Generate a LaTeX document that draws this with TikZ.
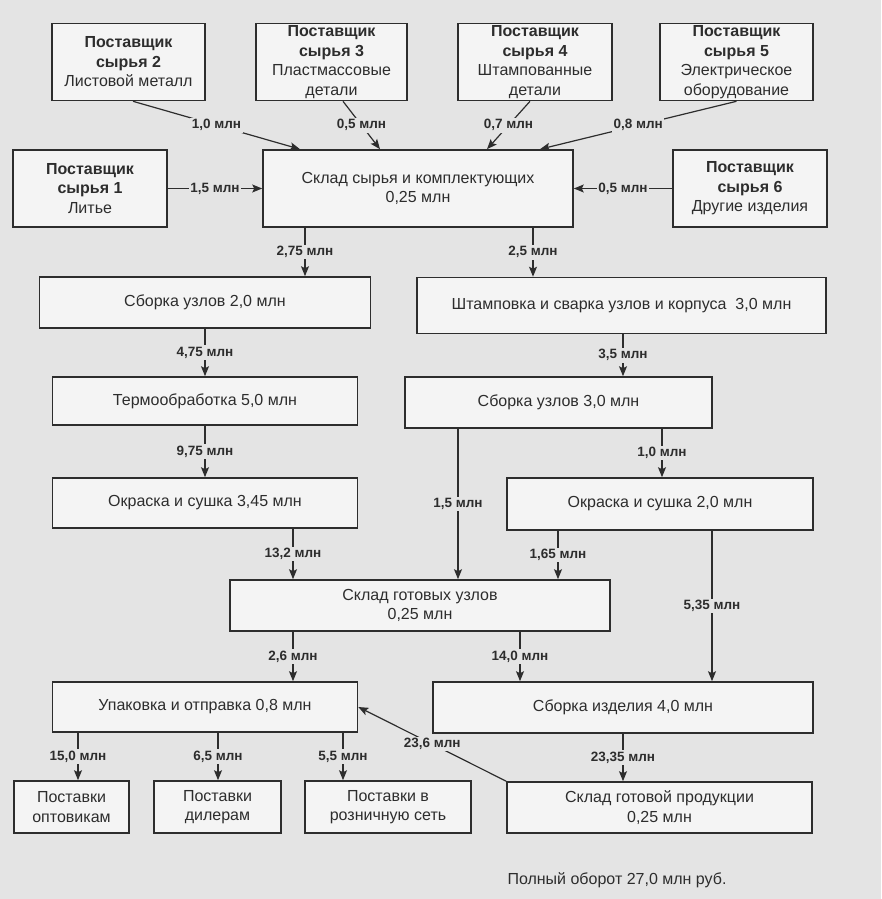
\documentclass[tikz,border=0pt]{standalone}
\usepackage{fontspec}
\setmainfont{Liberation Sans}
\usetikzlibrary{arrows.meta}

\definecolor{paper}{RGB}{228,228,228}
\definecolor{boxfill}{RGB}{244,244,244}
\definecolor{ink}{RGB}{45,45,45}

\tikzset{
    box/.style={draw=ink, line width=1.6pt, fill=boxfill, inner sep=0pt, align=center,
        text=ink, font=\fontsize{16}{19.5}\selectfont},
    flow/.style={draw=ink, line width=1.2pt, -{Stealth[length=10pt,width=8pt,inset=2pt]}},
    qty/.style={fill=paper, inner sep=1.5pt, text=ink, font=\bfseries\fontsize{13.5}{15}\selectfont},
}

\begin{document}
\begin{tikzpicture}[x=1pt, y=-1pt]
        \fill[paper] (0,0) rectangle (881,899);
        \useasboundingbox (0,0) rectangle (881,899);

        \node[box, minimum width=153pt, minimum height=77pt] (SupplierTwo) at (128.5,62) {\textbf{Поставщик}\\\textbf{сырья 2}\\Листовой металл};
        \node[box, minimum width=151pt, minimum height=77pt] (SupplierThree) at (331.5,62) {\textbf{Поставщик}\\\textbf{сырья 3}\\Пластмассовые\\детали};
        \node[box, minimum width=154pt, minimum height=77pt] (SupplierFour) at (535,62) {\textbf{Поставщик}\\\textbf{сырья 4}\\Штампованные\\детали};
        \node[box, minimum width=153pt, minimum height=77pt] (SupplierFive) at (736.5,62) {\textbf{Поставщик}\\\textbf{сырья 5}\\Электрическое\\оборудование};
        \node[box, minimum width=154pt, minimum height=77pt] (SupplierOne) at (90,188.5) {\textbf{Поставщик}\\\textbf{сырья 1}\\Литье};
        \node[box, minimum width=310pt, minimum height=77pt] (RawStore) at (418,188.5) {Склад сырья и комплектующих\\0,25 млн};
        \node[box, minimum width=154pt, minimum height=77pt] (SupplierSix) at (750,188.5) {\textbf{Поставщик}\\\textbf{сырья 6}\\Другие изделия};

        \node[box, minimum width=331pt, minimum height=51pt] (UnitAssembly) at (205,302.5) {Сборка узлов 2,0 млн};
        \node[box, minimum width=409pt, minimum height=56pt] (Stamping) at (621.5,305.5) {Штамповка и сварка узлов и корпуса\ \ 3,0 млн};
        \node[box, minimum width=305pt, minimum height=48pt] (HeatTreatment) at (205,401) {Термообработка 5,0 млн};
        \node[box, minimum width=307pt, minimum height=51pt] (UnitAssemblyB) at (558.5,402.5) {Сборка узлов 3,0 млн};
        \node[box, minimum width=305pt, minimum height=50pt] (PaintingA) at (205,503) {Окраска и сушка 3,45 млн};
        \node[box, minimum width=306pt, minimum height=52pt] (PaintingB) at (660,504) {Окраска и сушка 2,0 млн};
        \node[box, minimum width=380pt, minimum height=51pt] (UnitStore) at (420,605.5) {Склад готовых узлов\\0,25 млн};
        \node[box, minimum width=305pt, minimum height=50pt] (Packing) at (205,707) {Упаковка и отправка 0,8 млн};
        \node[box, minimum width=380pt, minimum height=51pt] (ProductAssembly) at (623,707.5) {Сборка изделия 4,0 млн};

        \node[box, minimum width=115pt, minimum height=52pt] (Wholesale) at (71.5,807) {Поставки\\оптовикам};
        \node[box, minimum width=127pt, minimum height=52pt] (Dealers) at (217.5,807) {Поставки\\дилерам};
        \node[box, minimum width=166pt, minimum height=52pt] (Retail) at (388,807) {Поставки в\\розничную сеть};
        \node[box, minimum width=305pt, minimum height=51pt] (GoodsStore) at (659.5,807.5) {Склад готовой продукции\\0,25 млн};
        \node[text=ink, font=\fontsize{16}{19}\selectfont] (Turnover) at (617,880) {Полный оборот 27,0 млн руб.};

        \draw[flow] ([xshift=4.5pt]SupplierTwo.south) -- node[qty] {1,0 млн} ([xshift=-118pt]RawStore.north);
        \draw[flow] ([xshift=11.5pt]SupplierThree.south) -- node[qty] {0,5 млн} ([xshift=-38pt]RawStore.north);
        \draw[flow] ([xshift=-5pt]SupplierFour.south) -- node[qty] {0,7 млн} ([xshift=69pt]RawStore.north);
        \draw[flow] (SupplierFive.south) -- node[qty] {0,8 млн} ([xshift=122pt]RawStore.north);
        \draw[flow] (SupplierOne) -- node[qty] {1,5 млн} (RawStore);
        \draw[flow] (SupplierSix) -- node[qty] {0,5 млн} (RawStore);

        \draw[flow] ([xshift=-113pt]RawStore.south) -- node[qty] {2,75 млн} ([xshift=100pt]UnitAssembly.north);
        \draw[flow] ([xshift=115pt]RawStore.south) -- node[qty] {2,5 млн} ([xshift=-88.5pt]Stamping.north);
        \draw[flow] (UnitAssembly) -- node[qty] {4,75 млн} (HeatTreatment);
        \draw[flow] ([xshift=1.5pt]Stamping.south) -- node[qty] {3,5 млн} ([xshift=64.5pt]UnitAssemblyB.north);
        \draw[flow] (HeatTreatment) -- node[qty] {9,75 млн} (PaintingA);
        \draw[flow] ([xshift=103.5pt]UnitAssemblyB.south) -- node[qty] {1,0 млн} ([xshift=2pt]PaintingB.north);
        \draw[flow] ([xshift=-100.5pt]UnitAssemblyB.south) -- node[qty] {1,5 млн} ([xshift=38pt]UnitStore.north);
        \draw[flow] ([xshift=88pt]PaintingA.south) -- node[qty] {13,2 млн} ([xshift=-127pt]UnitStore.north);
        \draw[flow] ([xshift=-102pt]PaintingB.south) -- node[qty] {1,65 млн} ([xshift=138pt]UnitStore.north);
        \draw[flow] ([xshift=52pt]PaintingB.south) -- node[qty] {5,35 млн} ([xshift=89pt]ProductAssembly.north);
        \draw[flow] ([xshift=-127pt]UnitStore.south) -- node[qty] {2,6 млн} ([xshift=88pt]Packing.north);
        \draw[flow] ([xshift=100pt]UnitStore.south) -- node[qty] {14,0 млн} ([xshift=-103pt]ProductAssembly.north);

        \draw[flow] ([xshift=-127pt]Packing.south) -- node[qty] {15,0 млн} ([xshift=6.5pt]Wholesale.north);
        \draw[flow] ([xshift=13pt]Packing.south) -- node[qty] {6,5 млн} ([xshift=0.5pt]Dealers.north);
        \draw[flow] ([xshift=138pt]Packing.south) -- node[qty] {5,5 млн} ([xshift=-45pt]Retail.north);
        \draw[flow] (ProductAssembly.south) -- node[qty] {23,35 млн} ([xshift=-36.5pt]GoodsStore.north);
        \draw[flow] (GoodsStore.north west) -- node[qty] {23,6 млн} (Packing.east);
    \end{tikzpicture}
\end{document}
